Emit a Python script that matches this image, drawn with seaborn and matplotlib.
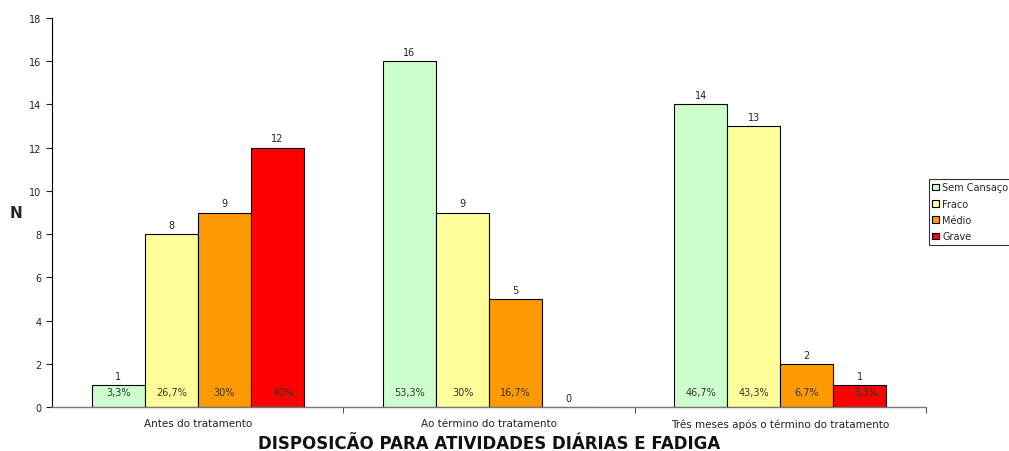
import matplotlib
matplotlib.use("Agg")
import matplotlib.pyplot as plt
import seaborn as sns
import pandas as pd

periods = ["Antes do tratamento", "Ao término do tratamento",
           "Três meses após o término do tratamento"]
levels = ["Sem Cansaço", "Fraco", "Médio", "Grave"]
counts_antes = [1, 8, 9, 12]
counts_termino = [16, 9, 5, 0]
counts_tres_meses = [14, 13, 2, 1]
pct_antes = ["3,3%", "26,7%", "30%", "40%"]
pct_termino = ["53,3%", "30%", "16,7%", ""]
pct_tres_meses = ["46,7%", "43,3%", "6,7%", "3,3%"]
colors = ["#CCFFCC", "#FFFF99", "#FF9900", "#FF0000"]

rows = []
for period, counts, pcts in zip(periods,
                                [counts_antes, counts_termino, counts_tres_meses],
                                [pct_antes, pct_termino, pct_tres_meses]):
    for lvl, n, p in zip(levels, counts, pcts):
        rows.append({"periodo": period, "nivel": lvl, "n": n, "pct": p})
df = pd.DataFrame(rows)

sns.set_style("white")
plt.rcParams["font.family"] = ["DejaVu Sans"]

fig = plt.figure(figsize=(10.09, 4.52), dpi=100)
ax = fig.add_axes([52 / 1009, 1 - 408 / 452, (926 - 52) / 1009, (408 - 19) / 452])

sns.barplot(data=df, x="periodo", y="n", hue="nivel", order=periods,
            hue_order=levels, palette=colors, width=0.727, saturation=1,
            edgecolor="black", linewidth=0.8, ax=ax)

# value labels: count above each bar, percentage near the base
for container, lvl in zip(ax.containers, levels):
    sub = df[df["nivel"] == lvl].set_index("periodo").loc[periods]
    for bar, n, p in zip(container, sub["n"], sub["pct"]):
        cx = bar.get_x() + bar.get_width() / 2
        ax.annotate(f"{n}", (cx, n), xytext=(0, 3), textcoords="offset points",
                    ha="center", va="bottom", fontsize=7, color="#222222")
        if p:
            ax.text(cx + (0.02 if lvl == "Grave" else 0), 0.7, p, ha="center",
                    va="center", fontsize=7, color="#333333")

ax.set_xlim(-0.5, 2.5)
ax.set_ylim(0, 18)
ax.set_yticks(range(0, 19, 2))
ax.tick_params(axis="y", labelsize=7, length=4, width=0.8, direction="out",
               left=True, colors="#222222")
ax.set_xticks(range(3))
ax.set_xticklabels(periods, fontsize=7.5, color="#222222")
ax.tick_params(axis="x", which="major", length=0, pad=8)
ax.set_xticks([0.5, 1.5, 2.5], minor=True)
ax.tick_params(axis="x", which="minor", length=4, width=0.8, color="#555555",
               direction="out", bottom=True)

for side in ["top", "right"]:
    ax.spines[side].set_visible(False)
ax.spines["left"].set_color("black")
ax.spines["left"].set_linewidth(0.8)
ax.spines["bottom"].set_color("#777777")
ax.spines["bottom"].set_linewidth(1.0)

ax.set_ylabel("N", fontsize=11, fontweight="bold", rotation=0, va="center",
              ha="center")
ax.yaxis.set_label_coords(-0.041, 0.50)
ax.set_xlabel("DISPOSICÃO PARA ATIVIDADES DIÁRIAS E FADIGA", fontsize=12,
              fontweight="bold", labelpad=4, color="#111111")

leg = ax.legend(loc="upper left", bbox_to_anchor=(929 / 1009, 1 - 180 / 452),
                bbox_transform=fig.transFigure, fontsize=7, frameon=True,
                fancybox=False, edgecolor="black", handlelength=0.7,
                handleheight=0.7, handletextpad=0.3, borderpad=0.35,
                labelspacing=0.65, borderaxespad=0)
leg.get_frame().set_linewidth(0.8)
for h in leg.legend_handles:
    h.set_edgecolor("black")

fig.savefig("out.png", dpi=100)
